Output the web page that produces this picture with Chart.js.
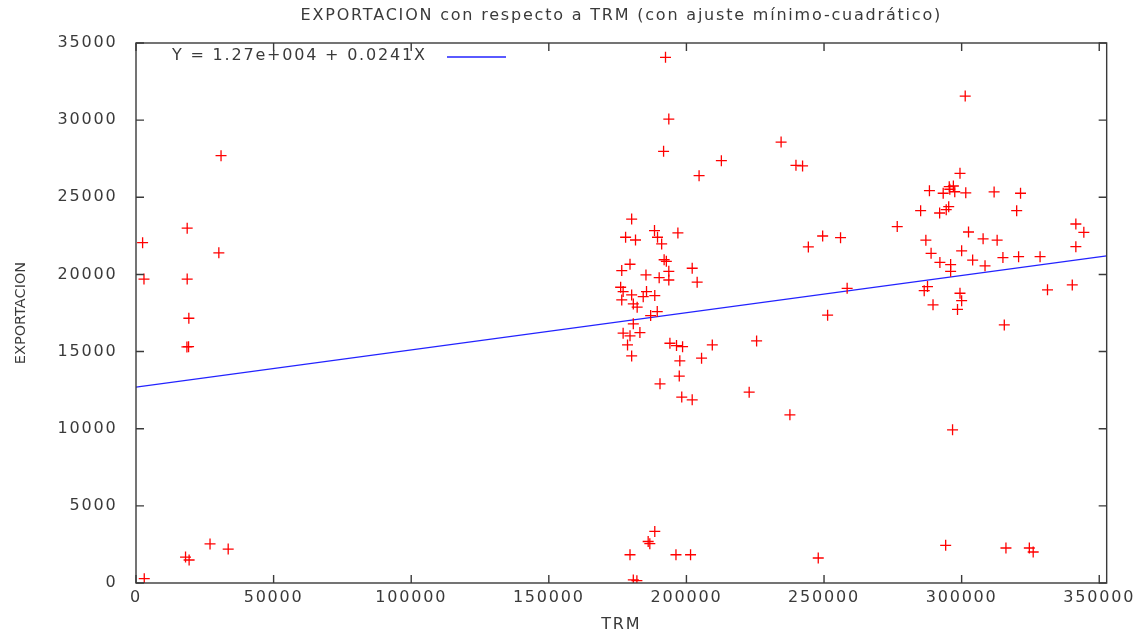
<!DOCTYPE html>
<html>
<head>
<meta charset="utf-8">
<script src="https://cdn.jsdelivr.net/npm/chart.js@4/dist/chart.umd.min.js"></script>
<style>
html,body{margin:0;padding:0;background:#fff;}
#wrap{width:1135px;height:634px;position:relative;}
</style>
</head>
<body>
<div id="wrap"><canvas id="c" width="1135" height="634"></canvas></div>
<script>
const chartTitle = 'EXPORTACION con respecto a TRM (con ajuste mínimo-cuadrático)';
const xAxisTitle = 'TRM';
const yAxisTitle = 'EXPORTACION';
const fitLabel = 'Y = 1.27e+004 + 0.0241X';

const trm = [
  30900, 18600, 2400, 30100, 2900, 18600, 19200, 18500, 19100, 26900, 33500, 18000, 19300, 3000,
  192400, 193600, 191700, 212700, 204600, 234400, 239800, 242200, 180100, 188400, 196900, 177900,
  181500, 189500, 191000, 249500, 256000, 244300, 191900, 192700, 179500, 176500, 202100, 185300,
  190100, 193600, 193600, 203900, 176100, 177000, 180100, 184300, 185500, 188500, 176500, 180700,
  182100, 189400, 187000, 258400, 251300, 180700, 177000, 183100, 179500, 178600, 180100, 194000,
  196400, 198600, 209400, 225500, 197600, 205500, 197400, 190400, 222800, 198300, 202100, 237600,
  188500, 186100, 186700, 179500, 196200, 201500, 247900, 180700, 182000,
  301300, 299400, 288300, 293300, 295500, 297000, 295700, 297500, 301500, 311800, 321400, 285100,
  292000, 294400, 295300, 320000, 276600, 341500, 344400, 302500, 287000, 307800, 312900, 341500,
  288900, 300000, 292100, 304000, 308500, 296000, 296000, 315000, 320700, 328500, 287600, 286400,
  299400, 300000, 289600, 298500, 331200, 340200, 315500, 296700, 294200, 316100, 324600, 326000
];
const exportacion = [
  27700, 23000, 22060, 21400, 19700, 19700, 17160, 15300, 15320, 2530, 2200, 1680, 1490, 280,
  34070, 30070, 27980, 27370, 26400, 28580, 27070, 27030, 23590, 22840, 22690, 22410,
  22230, 22410, 21980, 22490, 22380, 21780, 20950, 20850, 20660, 20250, 20400, 19970,
  19790, 20200, 19640, 19500, 19170, 18890, 18670, 18560, 18890, 18630, 18350, 18090,
  17880, 17590, 17330, 19100, 17360, 16800, 16190, 16230, 16020, 15430, 14720, 15540,
  15390, 15320, 15430, 15690, 14400, 14570, 13410, 12910, 12370, 12050, 11870, 10900,
  3340, 2690, 2550, 1830, 1830, 1830, 1620, 200, 150,
  31560, 26550, 25430, 25260, 25690, 25730, 25520, 25360, 25290, 25350, 25260, 24130,
  23980, 24200, 24390, 24130, 23100, 23270, 22730, 22750, 22220, 22310, 22220, 21800,
  21370, 21530, 20780, 20930, 20560, 20640, 20200, 21090, 21150, 21150, 19210, 18950,
  18780, 18300, 18030, 17730, 19000, 19320, 16730, 9930, 2440, 2270, 2270, 2010
];
const fitTrm = [0, 352700];
const fitExport = [12700, 21200];
const xRange = [0, 352700];
const yRange = [0, 35000];
const xTickValues = [0, 50000, 100000, 150000, 200000, 250000, 300000, 350000];
const yTickValues = [0, 5000, 10000, 15000, 20000, 25000, 30000, 35000];

const textColor = '#3a3a3a';
const frameColor = '#3a3a3a';
const FONT = 'DejaVu Sans';

const gnuplotFrame = {
  id: 'gnuplotFrame',
  beforeDraw(chart) {
    chart.ctx.letterSpacing = '1.8px';
  },
  afterLayout(chart) {
    const s = chart.scales.y;
    if (s && !s._noSpacingTitle) {
      const orig = s.drawTitle.bind(s);
      s.drawTitle = function () {
        const c = this.ctx;
        const prev = c.letterSpacing;
        c.letterSpacing = '0px';
        orig();
        c.letterSpacing = prev;
      };
      s._noSpacingTitle = true;
    }
  },
  afterDraw(chart) {
    const {ctx, chartArea, scales} = chart;
    const {left, right, top, bottom} = chartArea;
    const tl = 8;
    ctx.save();
    ctx.strokeStyle = frameColor;
    ctx.lineWidth = 1.4;
    ctx.strokeRect(left, top, right - left, bottom - top);
    ctx.beginPath();
    scales.x.ticks.forEach(t => {
      const px = scales.x.getPixelForValue(t.value);
      ctx.moveTo(px, bottom); ctx.lineTo(px, bottom - tl);
      ctx.moveTo(px, top); ctx.lineTo(px, top + tl);
    });
    scales.y.ticks.forEach(t => {
      const py = scales.y.getPixelForValue(t.value);
      ctx.moveTo(left, py); ctx.lineTo(left + tl, py);
      ctx.moveTo(right, py); ctx.lineTo(right - tl, py);
    });
    ctx.stroke();
    // key inside plot
    const ds = chart.data.datasets[1];
    ctx.letterSpacing = '1.8px';
    ctx.fillStyle = textColor;
    ctx.font = '16px "' + FONT + '"';
    ctx.textAlign = 'left';
    ctx.textBaseline = 'middle';
    ctx.fillText(ds.label, 172, 56);
    ctx.strokeStyle = ds.borderColor;
    ctx.lineWidth = ds.borderWidth;
    ctx.beginPath();
    ctx.moveTo(447, 57); ctx.lineTo(506, 57);
    ctx.stroke();
    ctx.restore();
  }
};

new Chart(document.getElementById('c'), {
  type: 'scatter',
  data: {
    datasets: [
      {
        label: 'EXPORTACION',
        data: trm.map((x, i) => ({x: x, y: exportacion[i]})),
        pointStyle: 'cross',
        pointRadius: 5.5,
        pointHoverRadius: 5.5,
        borderWidth: 1.3,
        borderColor: '#ff0000',
        backgroundColor: '#ff0000'
      },
      {
        type: 'line',
        label: fitLabel,
        data: fitTrm.map((x, i) => ({x: x, y: fitExport[i]})),
        borderColor: '#2323ff',
        borderWidth: 1.3,
        pointRadius: 0,
        fill: false,
        showLine: true
      }
    ]
  },
  plugins: [gnuplotFrame],
  options: {
    responsive: false,
    animation: false,
    events: [],
    layout: {padding: {left: 0, right: 28, top: 0, bottom: 0}},
    plugins: {
      legend: {display: false},
      tooltip: {enabled: false},
      title: {
        display: true,
        fullSize: false,
        text: chartTitle,
        color: textColor,
        font: {family: FONT, size: 16, weight: 'normal', lineHeight: 1.2},
        padding: {top: 6.4, bottom: 17.4}
      }
    },
    scales: {
      x: {
        type: 'linear',
        min: xRange[0],
        max: xRange[1],
        grid: {display: false, drawTicks: false},
        border: {display: false},
        afterBuildTicks(scale) { scale.ticks = xTickValues.map(v => ({value: v})); },
        ticks: {
          autoSkip: false,
          color: textColor,
          padding: 5,
          maxRotation: 0,
          font: {family: FONT, size: 16},
          callback: v => String(v)
        },
        title: {
          display: true,
          text: xAxisTitle,
          color: textColor,
          font: {family: FONT, size: 16},
          padding: {top: 0, bottom: 0}
        },
        afterFit(scale) { scale.height = 51; }
      },
      y: {
        type: 'linear',
        min: yRange[0],
        max: yRange[1],
        grid: {display: false, drawTicks: false},
        border: {display: false},
        afterBuildTicks(scale) { scale.ticks = yTickValues.map(v => ({value: v})); },
        ticks: {
          autoSkip: false,
          color: textColor,
          padding: 18.5,
          font: {family: FONT, size: 16},
          callback: v => String(v)
        },
        title: {
          display: true,
          text: yAxisTitle,
          color: textColor,
          font: {family: FONT, size: 14.5, lineHeight: 1.2},
          padding: {top: 12.3, bottom: 0}
        },
        afterFit(scale) { scale.width = 136; }
      }
    }
  }
});
</script>
</body>
</html>
